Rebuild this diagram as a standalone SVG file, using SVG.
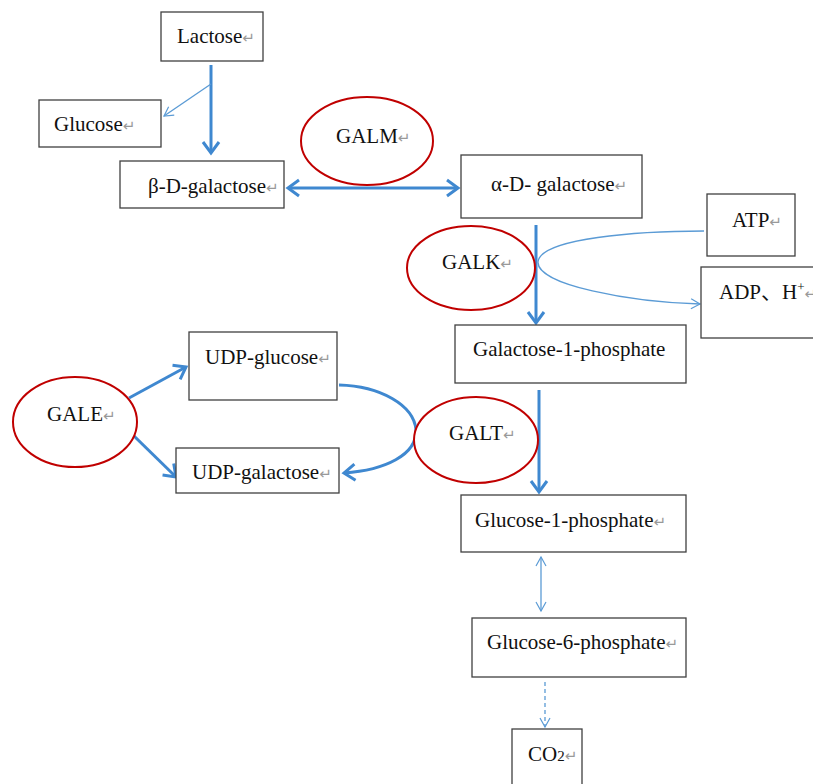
<svg xmlns="http://www.w3.org/2000/svg" width="813" height="784" viewBox="0 0 813 784">
<style>
.box{fill:#fff;stroke:#404040;stroke-width:1.3}
.enz{fill:#fff;stroke:#c00000;stroke-width:2}
.t{font-family:"Liberation Serif","Times New Roman","Noto Sans CJK SC",serif;font-size:21px;fill:#111}
.r{font-family:"DejaVu Sans",sans-serif;font-size:15px;fill:#999}
.thick{fill:none;stroke:#3f88d0;stroke-width:3}
.thin{fill:none;stroke:#5b9bd5;stroke-width:1.3}
.dash{fill:none;stroke:#5b9bd5;stroke-width:1.3;stroke-dasharray:4 3}
</style>
<defs>
<marker id="ah" markerUnits="userSpaceOnUse" markerWidth="16" markerHeight="20" refX="13" refY="9" orient="auto-start-reverse" viewBox="0 0 16 18">
<path d="M2,1 L13,9 L2,17" fill="none" stroke="#3f88d0" stroke-width="3"/>
</marker>
<marker id="at" markerUnits="userSpaceOnUse" markerWidth="12" markerHeight="12" refX="10" refY="6" orient="auto-start-reverse" viewBox="0 0 12 12">
<path d="M1,1 L10,6 L1,11" fill="none" stroke="#5b9bd5" stroke-width="1.2"/>
</marker>
</defs>
<g id="connectors">
<line class="thick" x1="211" y1="65" x2="211" y2="153" marker-end="url(#ah)"/>
<line class="thin" x1="211" y1="84" x2="164" y2="116" marker-end="url(#at)"/>
<line class="thick" x1="288" y1="188" x2="458" y2="188" marker-start="url(#ah)" marker-end="url(#ah)"/>
<line class="thick" x1="536" y1="225" x2="536" y2="323" marker-end="url(#ah)"/>
<path class="thin" d="M704,231 C640,231 540,238 538,262 C537,285 630,302 700,304" marker-end="url(#at)"/>
<line class="thick" x1="539" y1="390" x2="539" y2="492" marker-end="url(#ah)"/>
<line class="thin" x1="541" y1="557" x2="541" y2="611" marker-start="url(#at)" marker-end="url(#at)"/>
<line class="dash" x1="545" y1="682" x2="545" y2="727" marker-end="url(#at)"/>
<line class="thick" x1="129" y1="398" x2="186" y2="367" marker-end="url(#ah)"/>
<line class="thick" x1="134" y1="436" x2="176" y2="477" marker-end="url(#ah)"/>
<path class="thick" d="M339,385 C380,386 414,405 416,430 C417,455 385,470 344,473" marker-end="url(#ah)"/>
</g>
<g id="lactose"><rect class="box" x="161" y="12" width="102" height="49"/><text class="t" x="177" y="43">Lactose<tspan class="r">↵</tspan></text></g>
<g id="glucose"><rect class="box" x="39" y="100" width="122" height="47"/><text class="t" x="54" y="131">Glucose<tspan class="r">↵</tspan></text></g>
<g id="b-d-galactose"><rect class="box" x="120" y="161" width="164" height="47"/><text class="t" x="148" y="193">β-D-galactose<tspan class="r">↵</tspan></text></g>
<g id="galm"><ellipse class="enz" cx="367" cy="141" rx="66" ry="44"/><text class="t" x="336" y="143">GALM<tspan class="r">↵</tspan></text></g>
<g id="a-d-galactose"><rect class="box" x="461" y="155" width="181" height="63"/><text class="t" x="491" y="191">α-D- galactose<tspan class="r">↵</tspan></text></g>
<g id="atp"><rect class="box" x="707" y="194" width="88" height="62"/><text class="t" x="732" y="227">ATP<tspan class="r">↵</tspan></text></g>
<g id="adp"><rect class="box" x="701" y="267" width="118" height="71"/><text class="t" x="719" y="299">ADP、H<tspan font-size="13" dy="-8">+</tspan><tspan class="r" dy="8">↵</tspan></text></g>
<g id="galk"><ellipse class="enz" cx="471" cy="268" rx="64" ry="42"/><text class="t" x="442" y="269">GALK<tspan class="r">↵</tspan></text></g>
<g id="galactose-1-phosphate"><rect class="box" x="455" y="325" width="231" height="58"/><text class="t" x="473" y="356">Galactose-1-phosphate</text></g>
<g id="galt"><ellipse class="enz" cx="476" cy="440" rx="62" ry="43"/><text class="t" x="449" y="440">GALT<tspan class="r">↵</tspan></text></g>
<g id="glucose-1-phosphate"><rect class="box" x="461" y="495" width="225" height="57"/><text class="t" x="475" y="527">Glucose-1-phosphate<tspan class="r">↵</tspan></text></g>
<g id="glucose-6-phosphate"><rect class="box" x="472" y="618" width="214" height="59"/><text class="t" x="487" y="649">Glucose-6-phosphate<tspan class="r">↵</tspan></text></g>
<g id="co2"><rect class="box" x="512" y="729" width="70" height="60"/><text class="t" x="528" y="761">CO<tspan font-size="15">2</tspan><tspan class="r">↵</tspan></text></g>
<g id="gale"><ellipse class="enz" cx="75" cy="422" rx="62" ry="45"/><text class="t" x="47" y="421">GALE<tspan class="r">↵</tspan></text></g>
<g id="udp-glucose"><rect class="box" x="189" y="332" width="148" height="68"/><text class="t" x="205" y="364">UDP-glucose<tspan class="r">↵</tspan></text></g>
<g id="udp-galactose"><rect class="box" x="176" y="448" width="163" height="45"/><text class="t" x="192" y="479">UDP-galactose<tspan class="r">↵</tspan></text></g>
</svg>
